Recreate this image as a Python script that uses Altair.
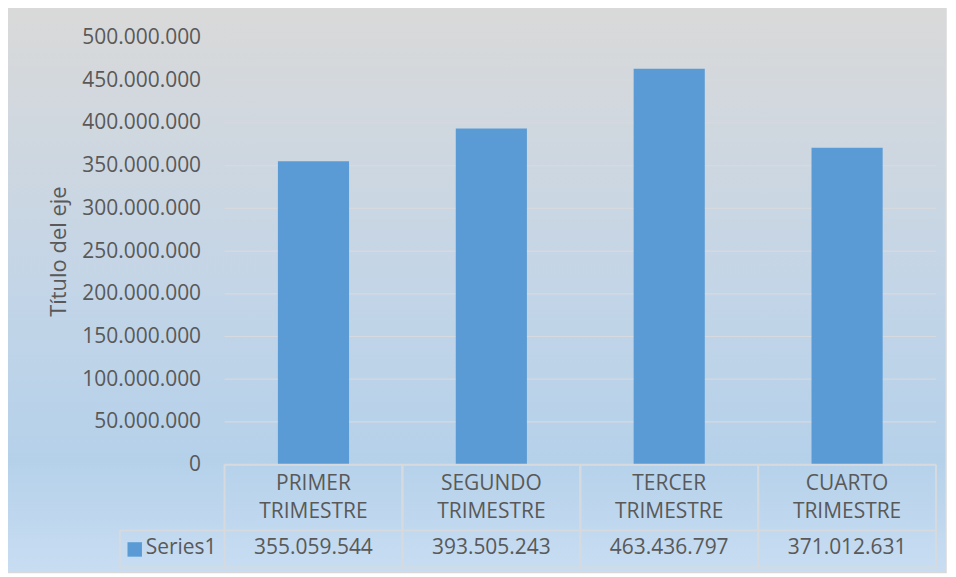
import altair as alt
import pandas as pd

categories = ["PRIMER TRIMESTRE", "SEGUNDO TRIMESTRE", "TERCER TRIMESTRE", "CUARTO TRIMESTRE"]
header_labels = ["PRIMER\nTRIMESTRE", "SEGUNDO\nTRIMESTRE", "TERCER\nTRIMESTRE", "CUARTO\nTRIMESTRE"]
values = [355059544, 393505243, 463436797, 371012631]
series_name = "Series1"
y_ticks = [0, 50000000, 100000000, 150000000, 200000000, 250000000,
           300000000, 350000000, 400000000, 450000000, 500000000]
axis_title = "Título del eje"

W, H = 713, 428
FONT = "Open Sans"
FS = 21
TXT = "#595959"
BAR = "#5b9bd5"
LINE = "#d6dadf"

df = pd.DataFrame({"cat": categories, "label": header_labels, "value": values})
ticks_df = pd.DataFrame({"value": y_ticks})
one = pd.DataFrame({"k": [0]})

fmt = "replace(format(datum.value, ','), regexp(',', 'g'), '.')"

xenc = alt.X("cat:N", sort=categories, axis=None,
             scale=alt.Scale(paddingInner=0, paddingOuter=0))

yaxis = alt.Axis(values=y_ticks, grid=False, domain=False, ticks=False,
                 labelExpr=fmt, labelPadding=24, labelFontSize=FS,
                 labelFont=FONT, labelColor=TXT, title=axis_title,
                 titleFont=FONT, titleFontSize=22, titleFontWeight="normal",
                 titleColor=TXT, titlePadding=11, zindex=1)
yenc = alt.Y("value:Q", scale=alt.Scale(domain=[0, 500000000]), axis=yaxis, title=axis_title)

bg = alt.Chart(one).mark_rect(
    fill=alt.LinearGradient(
        gradient="linear",
        stops=[alt.GradientStop(color="#d9d9d9", offset=0),
               alt.GradientStop(color="#c3d5e7", offset=0.5),
               alt.GradientStop(color="#b5d1ea", offset=0.8),
               alt.GradientStop(color="#c8ddf2", offset=1)],
        x1=0, x2=0, y1=0, y2=1),
    stroke="#d9d9d9", strokeWidth=1.5,
).encode(x=alt.value(-218), x2=alt.value(W + 10), y=alt.value(-29), y2=alt.value(H + 108))

grid = alt.Chart(ticks_df).mark_rule(color=LINE, strokeWidth=1.2).encode(
    y=yenc, x=alt.value(0), x2=alt.value(W),
)

bars = alt.Chart(df).mark_bar(color=BAR, width=alt.RelativeBandSize(0.4)).encode(
    x=xenc, y=yenc,
)

vlines_l = alt.Chart(df).mark_rule(color=LINE, strokeWidth=2).encode(
    x=alt.X("cat:N", sort=categories, axis=None, bandPosition=0,
            scale=alt.Scale(paddingInner=0, paddingOuter=0)),
    y=alt.value(H), y2=alt.value(H + 103))
vlines_r = alt.Chart(df).mark_rule(color=LINE, strokeWidth=2).encode(
    x=alt.X("cat:N", sort=categories, axis=None, bandPosition=1,
            scale=alt.Scale(paddingInner=0, paddingOuter=0)),
    y=alt.value(H), y2=alt.value(H + 103))

hline1 = alt.Chart(one).mark_rule(color=LINE, strokeWidth=2).encode(
    x=alt.value(-105), x2=alt.value(W), y=alt.value(H + 66))
hline2 = alt.Chart(one).mark_rule(color=LINE, strokeWidth=2).encode(
    x=alt.value(-105), x2=alt.value(W), y=alt.value(H + 103))
toprule = alt.Chart(one).mark_rule(color=LINE, strokeWidth=2).encode(
    x=alt.value(0), x2=alt.value(W), y=alt.value(H))
legline = alt.Chart(one).mark_rule(color=LINE, strokeWidth=2).encode(
    x=alt.value(-105), y=alt.value(H + 66), y2=alt.value(H + 103))

header = alt.Chart(df).mark_text(lineBreak="\n", font=FONT, fontSize=FS, color=TXT,
                                 baseline="middle", lineHeight=28).encode(
    x=xenc, y=alt.value(H + 19), text="label:N")

vals = alt.Chart(df).transform_calculate(
    txt="replace(format(datum.value, ','), regexp(',', 'g'), '.')"
).mark_text(font=FONT, fontSize=FS, color=TXT, baseline="middle").encode(
    x=xenc, y=alt.value(H + 84), text="txt:N")

leg_sq = alt.Chart(one).mark_square(color=BAR, size=210, opacity=1).encode(
    x=alt.value(-90), y=alt.value(H + 85))
leg_txt = alt.Chart(pd.DataFrame({"s": [series_name]})).mark_text(
    font=FONT, fontSize=FS, color=TXT, align="left", baseline="middle").encode(
    x=alt.value(-79), y=alt.value(H + 84), text="s:N")

chart = alt.layer(bg, grid, bars, hline1, hline2, toprule, legline, vlines_l, vlines_r,
                  header, vals, leg_sq, leg_txt).properties(
    width=W, height=H,
    autosize=alt.AutoSizeParams(type="none"),
    padding={"left": 217, "top": 29, "right": 12, "bottom": 110},
).configure_view(stroke=None)

chart.save("out.html", embed_options={"renderer": "svg", "actions": False})
